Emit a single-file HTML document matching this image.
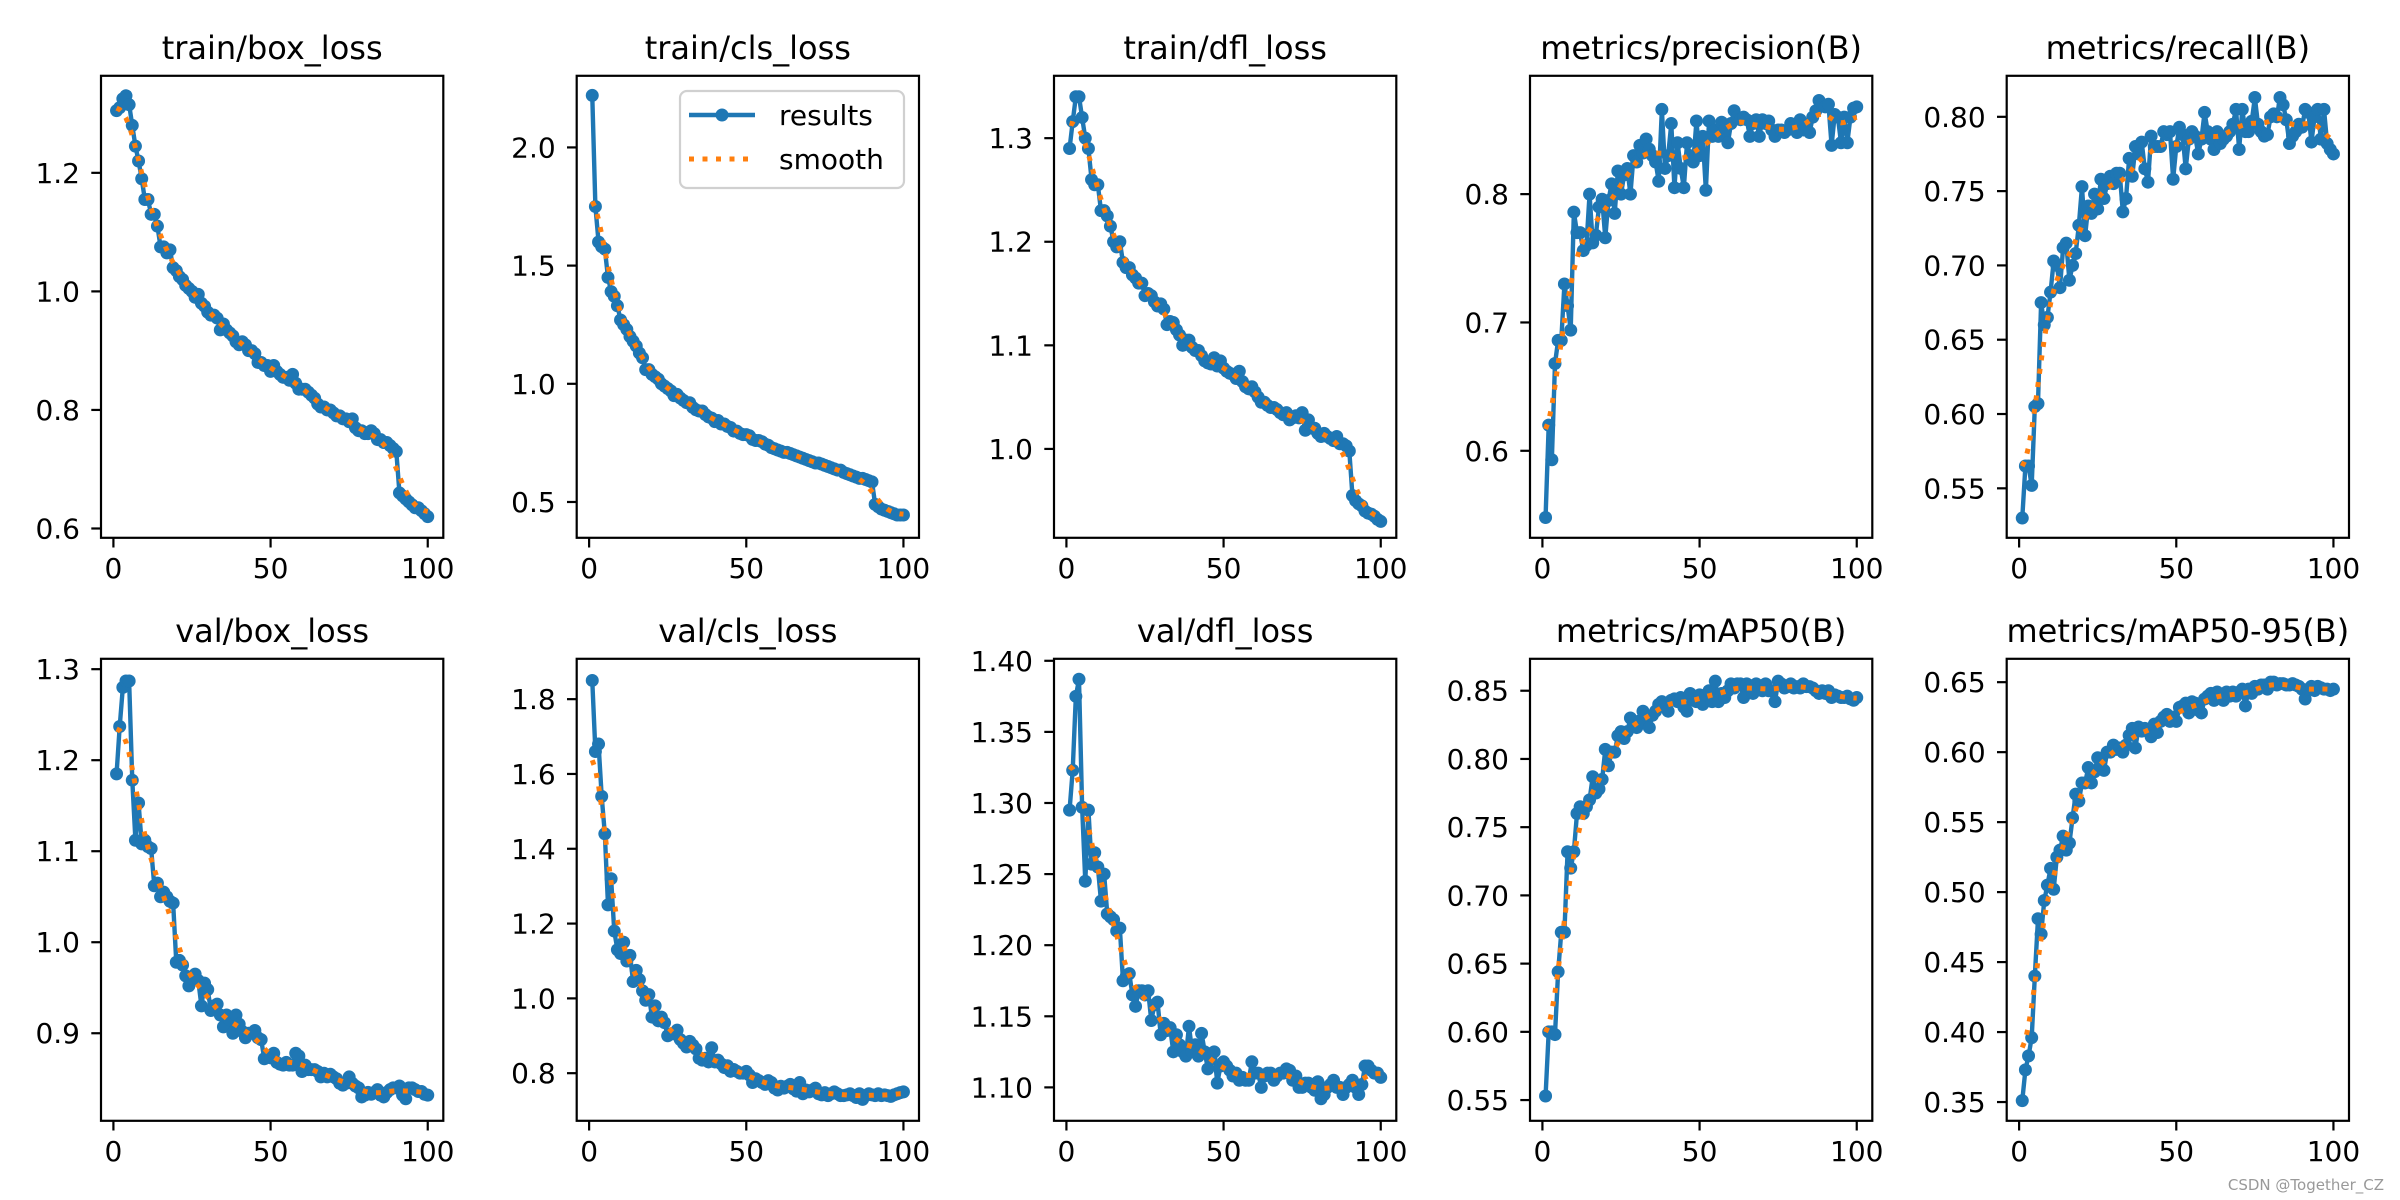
<!DOCTYPE html>
<html><head><meta charset="utf-8"><style>
html,body{margin:0;padding:0;background:#fff;}
svg{display:block;font-family:"DejaVu Sans","Liberation Sans",sans-serif;}
</style></head><body>
<svg id="fig" width="2400" height="1200" viewBox="0 0 2400 1200" xmlns="http://www.w3.org/2000/svg">
<rect x="0" y="0" width="2400" height="1200" fill="#fff"/>
<text x="2384" y="1190" text-anchor="end" font-size="15" fill="#999">CSDN @Together_CZ</text>
</svg>
<script>
const epochs = Array.from({length:100},(_, i)=>i+1);
const trainBox = [1.305,1.31,1.325,1.33,1.315,1.28,1.245,1.22,1.19,1.155,
1.155,1.13,1.13,1.11,1.075,1.075,1.065,1.07,1.04,1.035,
1.025,1.02,1.01,1.005,1.0,0.99,0.995,0.98,0.975,0.965,
0.96,0.96,0.955,0.935,0.945,0.935,0.93,0.925,0.915,0.91,
0.915,0.91,0.9,0.9,0.895,0.88,0.88,0.875,0.875,0.865,
0.875,0.865,0.86,0.855,0.855,0.85,0.86,0.845,0.835,0.835,
0.835,0.83,0.825,0.82,0.81,0.805,0.805,0.8,0.8,0.795,
0.79,0.79,0.785,0.785,0.78,0.785,0.77,0.765,0.765,0.76,
0.76,0.765,0.76,0.75,0.75,0.745,0.745,0.74,0.735,0.73,
0.66,0.655,0.65,0.645,0.64,0.635,0.635,0.63,0.625,0.62];
const trainCls = [2.22,1.75,1.6,1.58,1.57,1.45,1.39,1.37,1.33,1.27,
1.25,1.23,1.2,1.18,1.16,1.13,1.11,1.06,1.06,1.04,
1.03,1.02,1.0,0.99,0.98,0.97,0.95,0.955,0.94,0.93,
0.92,0.92,0.9,0.89,0.885,0.885,0.87,0.86,0.855,0.84,
0.845,0.83,0.83,0.82,0.815,0.8,0.8,0.79,0.785,0.785,
0.78,0.765,0.76,0.76,0.755,0.745,0.74,0.73,0.725,0.72,
0.715,0.71,0.71,0.705,0.7,0.695,0.69,0.685,0.68,0.675,
0.67,0.665,0.665,0.66,0.655,0.65,0.645,0.64,0.635,0.635,
0.625,0.62,0.615,0.61,0.605,0.6,0.6,0.595,0.59,0.585,
0.49,0.48,0.47,0.465,0.46,0.455,0.45,0.445,0.445,0.445];
const trainDfl = [1.29,1.316,1.34,1.34,1.32,1.3,1.29,1.26,1.255,1.255,
1.23,1.23,1.225,1.215,1.2,1.195,1.2,1.18,1.175,1.175,
1.168,1.165,1.16,1.16,1.148,1.15,1.148,1.142,1.138,1.14,
1.135,1.12,1.123,1.122,1.115,1.11,1.1,1.105,1.105,1.098,
1.095,1.095,1.09,1.085,1.083,1.082,1.088,1.08,1.085,1.078,
1.075,1.073,1.072,1.068,1.075,1.065,1.06,1.058,1.06,1.055,
1.05,1.045,1.045,1.042,1.04,1.04,1.038,1.035,1.033,1.035,
1.028,1.03,1.032,1.03,1.035,1.018,1.028,1.02,1.02,1.015,
1.012,1.015,1.012,1.01,1.008,1.012,1.005,1.005,1.003,0.998,
0.955,0.95,0.947,0.945,0.94,0.938,0.937,0.935,0.932,0.93];
const precision = [0.548,0.62,0.593,0.668,0.686,0.686,0.73,0.713,0.694,0.786,
0.77,0.77,0.756,0.76,0.8,0.762,0.768,0.79,0.796,0.766,
0.795,0.808,0.785,0.818,0.8,0.815,0.82,0.8,0.83,0.825,
0.838,0.832,0.843,0.835,0.83,0.825,0.81,0.866,0.82,0.83,
0.855,0.805,0.84,0.82,0.805,0.84,0.83,0.825,0.857,0.83,
0.845,0.803,0.857,0.845,0.85,0.845,0.856,0.85,0.84,0.855,
0.865,0.86,0.858,0.86,0.858,0.845,0.855,0.858,0.845,0.858,
0.855,0.857,0.85,0.845,0.85,0.85,0.848,0.85,0.855,0.852,
0.848,0.858,0.85,0.852,0.848,0.86,0.865,0.873,0.87,0.868,
0.87,0.838,0.862,0.86,0.84,0.86,0.84,0.86,0.867,0.868];
const recall = [0.53,0.565,0.565,0.552,0.605,0.607,0.675,0.66,0.665,0.682,
0.703,0.7,0.685,0.712,0.715,0.69,0.7,0.708,0.727,0.753,
0.72,0.74,0.735,0.748,0.738,0.758,0.745,0.755,0.76,0.755,
0.762,0.762,0.736,0.745,0.772,0.76,0.78,0.775,0.783,0.765,
0.756,0.787,0.78,0.78,0.78,0.79,0.788,0.79,0.758,0.78,
0.793,0.788,0.765,0.785,0.79,0.787,0.775,0.785,0.803,0.79,
0.785,0.778,0.79,0.782,0.785,0.787,0.79,0.795,0.805,0.778,
0.805,0.79,0.79,0.797,0.813,0.795,0.79,0.787,0.788,0.8,
0.802,0.8,0.813,0.808,0.798,0.782,0.787,0.79,0.795,0.793,
0.805,0.803,0.783,0.8,0.805,0.785,0.805,0.782,0.778,0.775];
const valBox = [1.185,1.237,1.28,1.287,1.287,1.178,1.112,1.153,1.108,1.112,
1.105,1.103,1.062,1.065,1.05,1.055,1.05,1.045,1.043,0.978,
0.98,0.975,0.963,0.952,0.96,0.965,0.958,0.93,0.955,0.948,
0.925,0.93,0.932,0.92,0.907,0.92,0.915,0.9,0.92,0.91,
0.902,0.895,0.9,0.9,0.903,0.895,0.893,0.872,0.874,0.873,
0.878,0.868,0.866,0.865,0.868,0.865,0.865,0.878,0.875,0.858,
0.865,0.86,0.86,0.86,0.858,0.852,0.856,0.852,0.855,0.852,
0.85,0.845,0.843,0.845,0.852,0.845,0.842,0.84,0.83,0.832,
0.835,0.833,0.835,0.838,0.832,0.83,0.835,0.838,0.84,0.84,
0.842,0.832,0.828,0.84,0.84,0.838,0.836,0.836,0.833,0.832];
const valCls = [1.85,1.66,1.68,1.54,1.44,1.25,1.32,1.18,1.13,1.12,
1.15,1.1,1.115,1.045,1.075,1.05,1.02,0.995,1.01,0.95,
0.98,0.94,0.95,0.935,0.9,0.905,0.905,0.915,0.89,0.88,
0.87,0.885,0.875,0.865,0.84,0.835,0.84,0.83,0.868,0.83,
0.835,0.825,0.815,0.82,0.805,0.81,0.805,0.8,0.8,0.805,
0.795,0.775,0.785,0.78,0.775,0.77,0.78,0.775,0.76,0.755,
0.765,0.76,0.765,0.77,0.758,0.752,0.775,0.745,0.755,0.75,
0.755,0.76,0.745,0.742,0.748,0.74,0.745,0.75,0.745,0.74,
0.74,0.742,0.745,0.74,0.735,0.745,0.73,0.74,0.745,0.742,
0.74,0.745,0.74,0.742,0.74,0.738,0.742,0.745,0.748,0.75];
const valDfl = [1.295,1.323,1.375,1.387,1.297,1.245,1.295,1.257,1.265,1.255,
1.231,1.25,1.222,1.22,1.218,1.21,1.212,1.175,1.178,1.18,
1.165,1.157,1.168,1.168,1.165,1.168,1.147,1.158,1.16,1.137,
1.145,1.14,1.142,1.125,1.137,1.13,1.125,1.122,1.143,1.125,
1.13,1.122,1.138,1.125,1.113,1.12,1.125,1.103,1.115,1.118,
1.115,1.112,1.108,1.11,1.105,1.107,1.105,1.105,1.118,1.11,
1.11,1.1,1.108,1.11,1.11,1.105,1.108,1.11,1.11,1.113,
1.112,1.105,1.108,1.1,1.1,1.103,1.103,1.1,1.098,1.104,
1.092,1.095,1.1,1.102,1.105,1.1,1.1,1.095,1.1,1.102,
1.105,1.1,1.095,1.102,1.115,1.115,1.112,1.11,1.11,1.107];
const map50 = [0.553,0.6,0.6,0.598,0.644,0.673,0.673,0.732,0.72,0.732,
0.76,0.765,0.76,0.765,0.77,0.787,0.775,0.778,0.785,0.807,
0.795,0.805,0.805,0.817,0.82,0.815,0.82,0.83,0.825,0.823,
0.828,0.835,0.832,0.823,0.832,0.835,0.84,0.842,0.84,0.835,
0.843,0.844,0.842,0.845,0.838,0.835,0.848,0.843,0.842,0.847,
0.84,0.847,0.85,0.842,0.857,0.842,0.848,0.845,0.85,0.855,
0.852,0.855,0.855,0.845,0.855,0.853,0.848,0.855,0.852,0.85,
0.855,0.85,0.85,0.842,0.857,0.855,0.852,0.853,0.855,0.852,
0.853,0.852,0.855,0.853,0.853,0.852,0.85,0.848,0.85,0.848,
0.85,0.845,0.847,0.846,0.845,0.845,0.846,0.844,0.843,0.845];
const map5095 = [0.351,0.373,0.383,0.396,0.44,0.481,0.47,0.494,0.505,0.517,
0.502,0.525,0.53,0.54,0.53,0.535,0.553,0.57,0.565,0.578,
0.578,0.589,0.578,0.586,0.596,0.59,0.587,0.6,0.6,0.605,
0.602,0.603,0.6,0.605,0.612,0.617,0.603,0.618,0.615,0.617,
0.615,0.611,0.62,0.614,0.622,0.625,0.627,0.622,0.625,0.622,
0.632,0.633,0.635,0.628,0.636,0.635,0.63,0.628,0.638,0.64,
0.642,0.637,0.643,0.64,0.637,0.643,0.64,0.643,0.64,0.643,
0.645,0.633,0.645,0.642,0.647,0.645,0.648,0.648,0.645,0.65,
0.65,0.648,0.649,0.649,0.648,0.648,0.649,0.648,0.647,0.645,
0.638,0.645,0.647,0.644,0.647,0.646,0.645,0.645,0.644,0.645];

const xTicks = [0,50,100];
const ticksTrainBox = [0.6,0.8,1.0,1.2];
const ticksTrainCls = [0.5,1.0,1.5,2.0];
const ticksTrainDfl = [1.0,1.1,1.2,1.3];
const ticksPrecision = [0.6,0.7,0.8];
const ticksRecall = [0.55,0.60,0.65,0.70,0.75,0.80];
const ticksValBox = [0.9,1.0,1.1,1.2,1.3];
const ticksValCls = [0.8,1.0,1.2,1.4,1.6,1.8];
const ticksValDfl = [1.10,1.15,1.20,1.25,1.30,1.35,1.40];
const ticksMap50 = [0.55,0.60,0.65,0.70,0.75,0.80,0.85];
const ticksMap5095 = [0.35,0.40,0.45,0.50,0.55,0.60,0.65];

const NS='http://www.w3.org/2000/svg';
const svg=document.getElementById('fig');
function mk(tag,attrs,parent){const e=document.createElementNS(NS,tag);for(const k in attrs)e.setAttribute(k,attrs[k]);(parent||svg).appendChild(e);return e;}
function gauss(y,s){const r=Math.ceil(4*s),w=[];let sum=0;for(let k=-r;k<=r;k++){const v=Math.exp(-k*k/(2*s*s));w.push(v);sum+=v;}
 const n=y.length,out=[];for(let i=0;i<n;i++){let a=0;for(let k=-r;k<=r;k++){let j=i+k;while(j<0||j>=n){if(j<0)j=-j-1;if(j>=n)j=2*n-j-1;}a+=w[k+r]*y[j];}out.push(a/sum);}return out;}

const panels=[
 {title:'train/box_loss',data:trainBox,ticks:ticksTrainBox,dec:1,ylim:[0.5843,1.3637],col:0,row:0,name:'train-box-loss'},
 {title:'train/cls_loss',data:trainCls,ticks:ticksTrainCls,dec:1,ylim:[0.3485,2.303],col:1,row:0,legend:true,name:'train-cls-loss'},
 {title:'train/dfl_loss',data:trainDfl,ticks:ticksTrainDfl,dec:1,ylim:[0.9142,1.3602],col:2,row:0,name:'train-dfl-loss'},
 {title:'metrics/precision(B)',data:precision,ticks:ticksPrecision,dec:1,ylim:[0.5322,0.8922],col:3,row:0,name:'precision'},
 {title:'metrics/recall(B)',data:recall,ticks:ticksRecall,dec:2,ylim:[0.5167,0.8276],col:4,row:0,name:'recall'},
 {title:'val/box_loss',data:valBox,ticks:ticksValBox,dec:1,ylim:[0.8038,1.3114],col:0,row:1,name:'val-box-loss'},
 {title:'val/cls_loss',data:valCls,ticks:ticksValCls,dec:1,ylim:[0.6727,1.9079],col:1,row:1,name:'val-cls-loss'},
 {title:'val/dfl_loss',data:valDfl,ticks:ticksValDfl,dec:2,ylim:[1.0765,1.4014],col:2,row:1,name:'val-dfl-loss'},
 {title:'metrics/mAP50(B)',data:map50,ticks:ticksMap50,dec:2,ylim:[0.5348,0.8734],col:3,row:1,name:'map50'},
 {title:'metrics/mAP50-95(B)',data:map5095,ticks:ticksMap5095,dec:2,ylim:[0.3366,0.6667],col:4,row:1,name:'map50-95'}
];
const lefts=[101,576.7,1054,1530,2006.7], W=342.3;
const tops=[75.8,658.8], H=462;
const FS=28, TFS=32;

panels.forEach(p=>{
 const L=lefts[p.col],T=tops[p.row],R=L+W,B=T+H;
 const g=mk('g',{});
 
 
 const xs=v=>L+(v+3.95)/108.9*W;
 const ys=v=>B-(v-p.ylim[0])/(p.ylim[1]-p.ylim[0])*H;
 const t=mk('text',{x:(L+R)/2,y:T-17,'text-anchor':'middle','font-size':TFS,fill:'#000'},g);
 t.textContent=p.title;
 
 
 const cp='clip-'+p.name;
 const cl=mk('clipPath',{id:cp},g);mk('rect',{x:L,y:T,width:W,height:H},cl);
 const pg=mk('g',{'clip-path':'url(#'+cp+')'},g);
 const d=p.data.map((v,i)=>(i?'L':'M')+xs(epochs[i]).toFixed(2)+' '+ys(v).toFixed(2)).join(' ');
 const line=mk('path',{d:d,fill:'none',stroke:'#1f77b4','stroke-width':4.4,'stroke-linejoin':'round'},pg);
 
 
 p.data.forEach((v,i)=>{const c=mk('circle',{cx:xs(epochs[i]),cy:ys(v),r:6.5,fill:'#1f77b4'},pg);
  
  });
 const sm=gauss(p.data,3);
 const d2=sm.map((v,i)=>(i?'L':'M')+xs(epochs[i]).toFixed(2)+' '+ys(v).toFixed(2)).join(' ');
 const sl=mk('path',{d:d2,fill:'none',stroke:'#ff7f0e','stroke-width':5,'stroke-dasharray':'5 8.5'},pg);
 
 
 const fr=mk('rect',{x:L,y:T,width:W,height:H,fill:'none',stroke:'#000','stroke-width':2.2},g);
 
 
 xTicks.forEach(v=>{const x=xs(v);mk('line',{x1:x,x2:x,y1:B,y2:B+9.7,stroke:'#000','stroke-width':2.2},g);
  const tx=mk('text',{x:x,y:B+40,'text-anchor':'middle','font-size':FS,fill:'#000'},g);tx.textContent=String(v);
  
  });
 p.ticks.forEach(v=>{const y=ys(v);mk('line',{x1:L-9.7,x2:L,y1:y,y2:y,stroke:'#000','stroke-width':2.2},g);
  const ty=mk('text',{x:L-21,y:y+10,'text-anchor':'end','font-size':FS,fill:'#000'},g);ty.textContent=v.toFixed(p.dec);
  
  });
 if(p.legend){
  const lg=mk('g',{},g);
  
  
  mk('rect',{x:680,y:91,width:224,height:97,rx:7,fill:'#fff','fill-opacity':0.8,stroke:'#d0d0d0','stroke-width':2.2},lg);
  mk('line',{x1:689,x2:755,y1:115,y2:115,stroke:'#1f77b4','stroke-width':4.4},lg);
  mk('circle',{cx:722,cy:115,r:6.5,fill:'#1f77b4'},lg);
  const t1=mk('text',{x:779,y:125,'font-size':FS,fill:'#000'},lg);t1.textContent='results';
  
  
  mk('line',{x1:689,x2:755,y1:159,y2:159,stroke:'#ff7f0e','stroke-width':5,'stroke-dasharray':'5 8.5'},lg);
  const t2=mk('text',{x:779,y:169,'font-size':FS,fill:'#000'},lg);t2.textContent='smooth';
  
  
 }
});
</script>
</body></html>
